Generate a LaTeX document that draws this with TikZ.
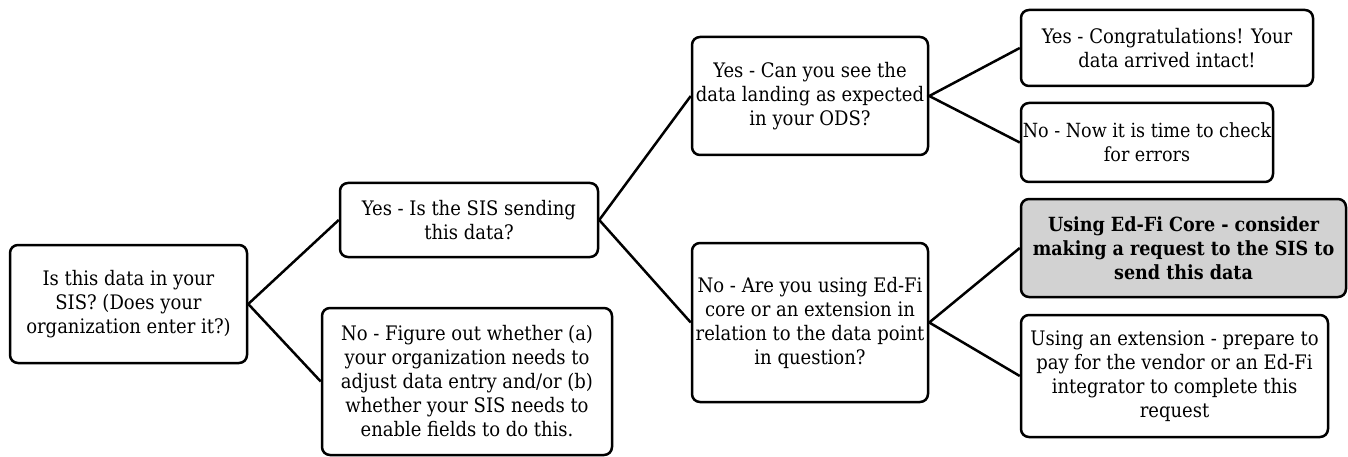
\documentclass[tikz,border=0pt]{standalone}
\usepackage{fontspec}
\setmainfont{DejaVu Serif Condensed}
\definecolor{boxgray}{RGB}{210,210,210}
\begin{document}
\begin{tikzpicture}[x=1pt,y=-1pt,
  box/.style={draw=black, line width=2.5pt, rounded corners=8pt, fill=white,
    align=center, inner sep=0pt, font=\fontsize{20}{24}\selectfont},
  link/.style={draw=black, line width=2.5pt}]
\useasboundingbox (0,0) rectangle (1348,457);
\node[box, minimum width=237, minimum height=118] (root) at (128.5,304)
  {Is this data in your\\SIS? (Does your\\organization enter it?)};
\node[box, minimum width=258, minimum height=74] (sis) at (469,220)
  {Yes - Is the SIS sending\\this data?};
\node[box, minimum width=290, minimum height=147] (nofig) at (467,381.5)
  {No - Figure out whether (a)\\your organization needs to\\adjust data entry and/or (b)\\whether your SIS needs to\\enable fields to do this.};
\node[box, minimum width=236, minimum height=118] (ods) at (810,96)
  {Yes - Can you see the\\data landing as expected\\in your ODS?};
\node[box, minimum width=236, minimum height=159] (noedfi) at (810,322.5)
  {No - Are you using Ed-Fi\\core or an extension in\\relation to the data point\\in question?};
\node[box, minimum width=292, minimum height=76] (congr) at (1167,48)
  {Yes - Congratulations! Your\\data arrived intact!};
\node[box, minimum width=252, minimum height=79, font=\fontsize{19.5}{24}\selectfont] (noerr) at (1147,142.5)
  {No - Now it is time to check\\for errors};
\node[box, fill=boxgray, minimum width=325, minimum height=98, font=\fontsize{19.5}{24}\selectfont\bfseries] (core) at (1183.5,248)
  {Using Ed-Fi Core - consider\\making a request to the SIS to\\send this data};
\node[box, minimum width=307, minimum height=122] (ext) at (1174.5,376)
  {Using an extension - prepare to\\pay for the vendor or an Ed-Fi\\integrator to complete this\\request};
\draw[link] (sis.west) -- (root.east) -- (nofig.west);
\draw[link] (ods.west) -- (sis.east) -- (noedfi.west);
\draw[link] (congr.west) -- (ods.east) -- (noerr.west);
\draw[link] (core.west) -- (noedfi.east) -- (ext.west);
\end{tikzpicture}
\end{document}
